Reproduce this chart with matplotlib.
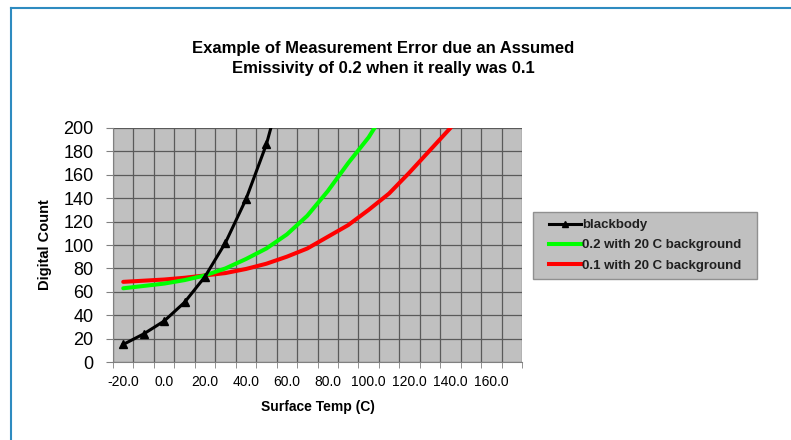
import matplotlib.pyplot as plt
from matplotlib.lines import Line2D
from matplotlib.patches import Rectangle
import numpy as np

plt.rcParams['font.family'] = ['Liberation Sans', 'DejaVu Sans']

# surface temperature categories (C)
temps = [-20, -10, 0, 10, 20, 30, 40, 50, 60, 70, 80, 90, 100, 110, 120, 130, 140, 150]
blackbody = [15, 24, 35, 51, 73, 102, 139, 186, 250, None, None, None, None, None, None, None, None, None]
green_02 = [63, 65, 67, 70, 74, 80, 88, 97, 109, 125, 146, 170, 192, 220, None, None, None, None]
red_01 = [68.5, 69.5, 70.5, 72, 74, 76, 79.5, 84, 90, 97, 107, 117, 130, 144, 162, 181, 200, 225]

xtick_vals = [-20, 0, 20, 40, 60, 80, 100, 120, 140, 160]
xtick_labels = ['-20.0', '0.0', '20.0', '40.0', '60.0', '80.0', '100.0', '120.0', '140.0', '160.0']
ytick_vals = [0, 20, 40, 60, 80, 100, 120, 140, 160, 180, 200]


def arr(v):
    return np.array([np.nan if x is None else x for x in v], dtype=float)


fig = plt.figure(figsize=(7.91, 4.4), dpi=100)
ax = fig.add_axes([113 / 791, 1 - 362 / 440, (522 - 113) / 791, (362 - 128) / 440])
ax.set_facecolor('#c0c0c0')

t = np.array(temps, dtype=float)
ax.plot(t, arr(red_01), color='#ff0000', lw=2.9, solid_capstyle='round', zorder=3)
ax.plot(t, arr(green_02), color='#00ff00', lw=2.9, solid_capstyle='round', zorder=3)
ax.plot(t, arr(blackbody), color='black', lw=2.2, marker='^', ms=5.5, zorder=4)

ax.set_xlim(-25, 175)
ax.set_ylim(0, 200)

# category-style gridlines between categories
ax.set_xticks(np.arange(-25, 176, 10), minor=True)
ax.set_xticks(xtick_vals)
ax.set_xticklabels(xtick_labels, fontsize=10)
ax.tick_params(axis='x', which='major', length=0, pad=9)
ax.tick_params(axis='x', which='minor', length=4, color='#808080')
ax.set_yticks(ytick_vals)
ax.set_yticklabels([str(v) for v in ytick_vals], fontsize=13)
ax.tick_params(axis='y', length=5, color='#808080', pad=9)
ax.grid(True, which='minor', axis='x', color='#5a5a5a', lw=0.9)
ax.grid(True, which='major', axis='y', color='#5a5a5a', lw=0.9)
ax.set_axisbelow(True)
for s in ['top', 'right']:
    ax.spines[s].set_visible(False)
for s in ['left', 'bottom']:
    ax.spines[s].set_color('#808080')

ax.set_xlabel('Surface Temp (C)', fontsize=10, fontweight='bold', labelpad=8)
ax.set_ylabel('Digital Count', fontsize=10.5, fontweight='bold', labelpad=8)

fig.text(0.484, 1 - 48 / 440, 'Example of Measurement Error due an Assumed',
         ha='center', va='center', fontsize=12, fontweight='bold')
fig.text(0.485, 1 - 69 / 440, 'Emissivity of 0.2 when it really was 0.1',
         ha='center', va='center', fontsize=12, fontweight='bold')

# legend box drawn separately so its padding matches the reference
fig.add_artist(Rectangle((533 / 791, 1 - 279 / 440), (757 - 533) / 791, (279 - 212) / 440,
                         transform=fig.transFigure, facecolor='#c0c0c0', edgecolor='#909090',
                         lw=1.0, zorder=1))
handles = [
    Line2D([], [], color='black', lw=2.2, marker='^', ms=5),
    Line2D([], [], color='#00ff00', lw=2.9),
    Line2D([], [], color='#ff0000', lw=2.9),
]
labels = ['blackbody', '0.2 with 20 C background', '0.1 with 20 C background']
leg = fig.legend(handles, labels, loc='upper left', bbox_to_anchor=(549 / 791, 1 - 219 / 440),
                 fontsize=9.5, frameon=False, handlelength=2.4, handletextpad=0.1,
                 borderpad=0, labelspacing=0.6, borderaxespad=0)
leg.set_zorder(2)
for txt in leg.get_texts():
    txt.set_fontweight('bold')
    txt.set_color('#202020')

# blue outer frame
fig.add_artist(Line2D([11 / 791, 11 / 791], [0, 1 - 8 / 440], color='#2e8bc0', lw=1.5,
                      transform=fig.transFigure))
fig.add_artist(Line2D([11 / 791, 1], [1 - 8 / 440, 1 - 8 / 440], color='#2e8bc0', lw=1.5,
                      transform=fig.transFigure))

fig.savefig('out.png', dpi=100)
